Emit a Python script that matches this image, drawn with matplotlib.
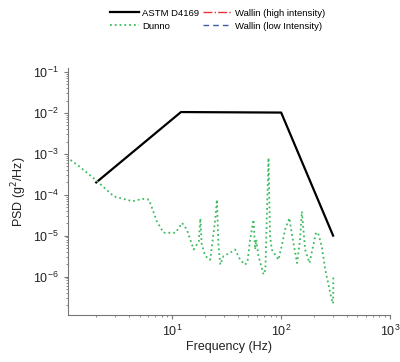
import numpy as np
import matplotlib
matplotlib.use("Agg")
import matplotlib.pyplot as plt
from matplotlib.ticker import NullFormatter

plt.rcParams['font.family'] = ['Liberation Sans', 'DejaVu Sans']

# ASTM D4169 truck profile
astm_f = [2, 12, 100, 300]
astm_psd = [2e-4, 1.05e-2, 1.02e-2, 1e-5]

# "Dunno" measured spectrum (frequency, log10 PSD)
dunno_f = [1.16, 1.43, 2.0, 2.9, 4.3, 5.3, 6.1, 6.6, 7.2, 8.3, 10.7, 12.3, 13.6,
           15.7, 17.5, 18.1, 18.6, 20.1, 22.3, 24.8, 25.7, 26.5, 27.6, 29.5, 34,
           37.8, 42, 46.6, 49, 51.8, 55.7, 57.7, 59, 61.9, 68.9, 71.6, 76.5, 79,
           82, 94.5, 101, 108.6, 119, 126, 140, 149, 155, 166, 182, 195, 209,
           218, 236, 254, 291, 300, 302]
dunno_logp = [-3.15, -3.33, -3.65, -4.04, -4.16, -4.10, -4.12, -4.37, -4.65, -4.93,
              -4.93, -4.69, -4.85, -5.34, -5.14, -4.58, -5.2, -5.50, -5.59, -4.6,
              -4.12, -5.2, -5.71, -5.50, -5.42, -5.34, -5.59, -5.71, -5.65, -5.10,
              -4.61, -5.34, -5.1, -5.50, -5.95, -5.83, -3.10, -5.0, -5.34, -5.59,
              -5.26, -4.85, -4.57, -5.0, -5.67, -5.10, -4.41, -5.34, -5.67, -5.3,
              -4.93, -4.93, -5.26, -5.83, -6.56, -6.66, -5.99]
dunno_psd = [10 ** v for v in dunno_logp]

xticks = [10, 100, 1000]
yticks = [1e-6, 1e-5, 1e-4, 1e-3, 1e-2, 1e-1]

fig = plt.figure(figsize=(4, 3.62), dpi=100)
ax = fig.add_axes([0.17, 0.13, 0.805, 0.682])

l1, = ax.plot(astm_f, astm_psd, color='black', lw=1.6, label='ASTM D4169')
l2, = ax.plot(dunno_f, dunno_psd, color='#3dbb5e', lw=1.3, ls=':', label='Dunno')
l3, = ax.plot([], [], color='#e8303a', lw=1.0, ls='-.', label='Wallin (high intensity)')
l4, = ax.plot([], [], color='#3a5aa8', lw=1.0, ls=(0, (4, 3)), label='Wallin (low Intensity)')

ax.set_xscale('log')
ax.set_yscale('log')
ax.set_xticks(xticks)
ax.set_yticks(yticks)
ax.set_xlim(1.1, 1000)
ax.set_ylim(1.15e-7, 1.25e-1)
ax.xaxis.set_minor_formatter(NullFormatter())
ax.yaxis.set_minor_formatter(NullFormatter())

for s in ['top', 'right']:
    ax.spines[s].set_visible(False)
for s in ['left', 'bottom']:
    ax.spines[s].set_color('#777777')

ax.tick_params(which='major', length=3, color='#777777', labelsize=9, labelcolor='#222222')
ax.tick_params(which='minor', length=1.5, color='#777777')

ax.set_xlabel('Frequency (Hz)', fontsize=9, color='#222222', labelpad=1)
ax.set_ylabel('PSD (g$^2$/Hz)', fontsize=9, color='#222222', labelpad=3)

fig.legend(handles=[l1, l2, l3, l4], ncol=2, loc='upper center',
           bbox_to_anchor=(0.545, 1.0), frameon=False, fontsize=6.8,
           handlelength=3.0, columnspacing=0.4, handletextpad=0.4,
           labelspacing=0.45)

fig.savefig('out.png', dpi=100)
